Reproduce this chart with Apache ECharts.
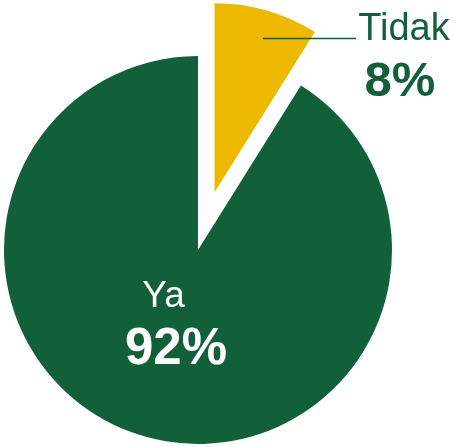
<!DOCTYPE html>
<html><head><meta charset="utf-8">
<script src="https://cdn.jsdelivr.net/npm/echarts@6/dist/echarts.min.js"></script>
<style>html,body{margin:0;padding:0;background:#fff}#c{width:454px;height:447px}</style>
</head><body><div id="c"></div>
<script>
var categories = ['Tidak', 'Ya'];
var values = [8.9, 91.1];          // slice sizes as drawn
var percentLabels = ['8%', '92%']; // percentages as printed on the chart
var colors = ['#EFB800', '#12603A'];

var chart = echarts.init(document.getElementById('c'), null, {renderer: 'canvas'});
var total = values.reduce(function(a, b){ return a + b; }, 0);

// exploded slice offset along its mid angle
var cx = 198, cy = 250, explode = 60;
var midAngle = (values[0] / total) * Math.PI; // half of first slice angle, from 12 o'clock clockwise
var cxB = cx + explode * Math.sin(midAngle);
var cyB = cy - explode * Math.cos(midAngle);

function fmt(p){ return '{n|' + p.name + '}\n{p|' + percentLabels[p.dataIndex] + '}'; }

var dataA = categories.map(function(c, i){
  var isMain = (c === 'Ya');
  return {
    name: c, value: values[i],
    itemStyle: {color: isMain ? colors[i] : 'rgba(0,0,0,0)'},
    label: {show: isMain}
  };
});
var dataB = categories.map(function(c, i){
  var isMain = (c === 'Tidak');
  return {
    name: c, value: values[i],
    itemStyle: {color: isMain ? colors[i] : 'rgba(0,0,0,0)'},
    label: {show: isMain}
  };
});

var font = 'Liberation Sans, Arial, sans-serif';
chart.setOption({
  animation: false,
  graphic: [{
    type: 'line', silent: true, z: 10,
    shape: {x1: 263, y1: 38.5, x2: 356, y2: 38.5},
    style: {stroke: '#12603A', lineWidth: 1.5}
  }],
  series: [
    {
      type: 'pie', center: [cx, cy], radius: 194, startAngle: 90,
      silent: true, selectedMode: false,
      data: dataA,
      labelLine: {show: false},
      label: {
        position: 'inside',
        formatter: fmt,
        rich: {
          n: {fontFamily: font, fontSize: 37, color: '#fff', lineHeight: 46, padding: [0, 25, 0, 0]},
          p: {fontFamily: font, fontSize: 51, fontWeight: 'bold', color: '#fff', lineHeight: 61}
        }
      },
      labelLayout: function(){ return {x: 176, y: 327, align: 'center', verticalAlign: 'middle'}; }
    },
    {
      type: 'pie', center: [cxB, cyB], radius: 189, startAngle: 90,
      silent: true, selectedMode: false,
      data: dataB,
      labelLine: {show: false},
      label: {
        position: 'inside',
        formatter: fmt,
        rich: {
          n: {fontFamily: font, fontSize: 38, color: '#12603A', lineHeight: 46, padding: [0, 0, 0, 8]},
          p: {fontFamily: font, fontSize: 49, fontWeight: 'bold', color: '#12603A', lineHeight: 58}
        }
      },
      labelLayout: function(){ return {x: 400, y: 59, align: 'center', verticalAlign: 'middle'}; }
    }
  ]
});
</script></body></html>
